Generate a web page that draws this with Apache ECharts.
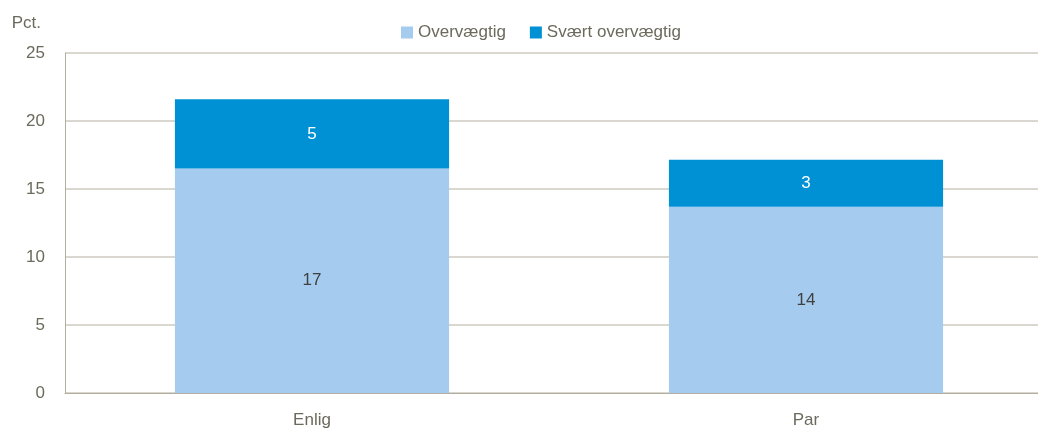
<!DOCTYPE html>
<html>
<head>
<meta charset="utf-8">
<script src="https://cdn.jsdelivr.net/npm/echarts@6/dist/echarts.min.js"></script>
<style>
  html, body { margin: 0; padding: 0; background: #fff; overflow: hidden; }
  /* plot area runs a little past the right edge of the picture, like the original */
  #chart { width: 1053px; height: 429px; }
</style>
</head>
<body>
<div id="chart"></div>
<script>
const categories = ['Enlig', 'Par'];
const overvaegtig = [16.5, 13.7];
const svaertOvervaegtig = [5.1, 3.45];
const yTicks = [0, 5, 10, 15, 20, 25];

const textColor = '#6b6a5c';
const fontFamily = '"Liberation Sans", Arial, sans-serif';

const chart = echarts.init(document.getElementById('chart'));
chart.setOption({
  animation: false,
  color: ['#A5CBEE', '#0091D5'],
  legend: {
    top: 19,
    left: 396,
    itemWidth: 12,
    itemHeight: 12,
    itemGap: 24,
    itemStyle: { borderWidth: 0 },
    icon: 'rect',
    textStyle: { color: textColor, fontSize: 17, fontFamily: fontFamily },
    data: ['Overvægtig', 'Svært overvægtig']
  },
  grid: {
    left: 65,
    right: 0,
    top: 53,
    bottom: 36
  },
  xAxis: {
    type: 'category',
    data: categories,
    axisLine: { lineStyle: { color: '#b3af9f', width: 1 } },
    axisTick: { show: false },
    axisLabel: { color: textColor, fontSize: 17, fontFamily: fontFamily, margin: 19 }
  },
  yAxis: {
    type: 'value',
    min: yTicks[0],
    max: yTicks[yTicks.length - 1],
    interval: 5,
    name: 'Pct.',
    nameLocation: 'end',
    nameGap: 21,
    nameTextStyle: { color: textColor, fontSize: 17, fontFamily: fontFamily, align: 'right', padding: [0, 24, 0, 0] },
    axisLine: { show: true, lineStyle: { color: '#b3af9f' } },
    axisTick: { show: false },
    axisLabel: { color: textColor, fontSize: 17, fontFamily: fontFamily, margin: 20 },
    splitLine: { lineStyle: { color: '#cdcac0', width: 1.5 } }
  },
  series: [
    {
      name: 'Overvægtig',
      type: 'bar',
      stack: 'total',
      barWidth: '55.5%',
      data: overvaegtig,
      label: {
        show: true,
        position: 'inside',
        color: '#404040',
        fontSize: 17,
        fontFamily: fontFamily,
        formatter: p => Math.round(p.value)
      }
    },
    {
      name: 'Svært overvægtig',
      type: 'bar',
      stack: 'total',
      data: svaertOvervaegtig,
      label: {
        show: true,
        position: 'inside',
        color: '#ffffff',
        fontSize: 17,
        fontFamily: fontFamily,
        formatter: p => Math.round(p.value)
      }
    }
  ]
});
</script>
</body>
</html>
